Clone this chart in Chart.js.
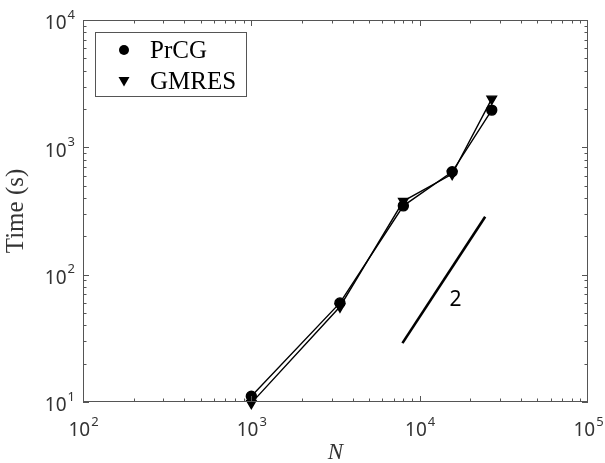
<!DOCTYPE html>
<html>
<head>
<meta charset="utf-8">
<script src="https://cdn.jsdelivr.net/npm/chart.js@4/dist/chart.umd.min.js"></script>
<style>
  body { margin: 0; background: #fff; }
  canvas { display: block; }
</style>
</head>
<body>
<canvas id="timing" width="605" height="463"></canvas>
<script>
// values
var problemSize = [1000, 3360, 8000, 15600, 26800];
var prcgTime = [11.1, 60, 347, 643, 1960];
var gmresTime = [9.8, 56, 378, 617, 2400];
var slopeN = [7900, 24500];
var slopeTime = [29, 285];
var slopeLabel = '2';
var xDecades = [2, 3, 4, 5];
var yDecades = [1, 2, 3, 4];

function toPoints(xs, ys) {
  return xs.map(function (x, i) { return { x: x, y: ys[i] }; });
}

var axisColor = '#555';
var textColor = '#333';
var serif = '"Liberation Serif", "Times New Roman", serif';
var sans = '"Noto Sans", "DejaVu Sans", sans-serif';

// box, inward ticks, power-of-ten labels, titles and legend
var decorations = {
  id: 'decorations',
  afterDraw: function (chart) {
    var ctx = chart.ctx;
    var a = chart.chartArea;
    var xs = chart.scales.x, ys = chart.scales.y;
    ctx.save();
    ctx.strokeStyle = axisColor;
    ctx.lineWidth = 1;
    ctx.strokeRect(a.left + 0.5, a.top + 0.5, a.right - a.left - 1, a.bottom - a.top - 1);

    ctx.beginPath();
    for (var d = xDecades[0]; d < xDecades[xDecades.length - 1]; d++) {
      for (var m = 1; m < 10; m++) {
        var len = m === 1 ? 6 : 3.5;
        var px = Math.round(xs.getPixelForValue(m * Math.pow(10, d))) + 0.5;
        ctx.moveTo(px, a.bottom); ctx.lineTo(px, a.bottom - len);
        ctx.moveTo(px, a.top); ctx.lineTo(px, a.top + len);
      }
    }
    for (var d2 = yDecades[0]; d2 < yDecades[yDecades.length - 1]; d2++) {
      for (var m2 = 1; m2 < 10; m2++) {
        var len2 = m2 === 1 ? 6 : 3.5;
        var py = Math.round(ys.getPixelForValue(m2 * Math.pow(10, d2))) + 0.5;
        ctx.moveTo(a.left, py); ctx.lineTo(a.left + len2, py);
        ctx.moveTo(a.right, py); ctx.lineTo(a.right - len2, py);
      }
    }
    ctx.stroke();

    // tick labels 10^n
    ctx.fillStyle = textColor;
    ctx.textBaseline = 'middle';
    ctx.textAlign = 'left';
    function power(exp, x, y, anchor) {
      ctx.font = '19px ' + sans;
      var w1 = ctx.measureText('10').width;
      ctx.font = '13px ' + sans;
      var w2 = ctx.measureText(String(exp)).width;
      var start = anchor === 'center' ? x - (w1 + w2) / 2 : x - (w1 + w2);
      ctx.font = '19px ' + sans;
      ctx.fillText('10', start, y);
      ctx.font = '13px ' + sans;
      ctx.fillText(String(exp), start + w1 + 1, y - 9);
    }
    xDecades.forEach(function (d) {
      power(d, xs.getPixelForValue(Math.pow(10, d)), 431, 'center');
    });
    yDecades.forEach(function (d) {
      power(d, 74, ys.getPixelForValue(Math.pow(10, d)) + 4, 'right');
    });

    // axis titles
    ctx.textAlign = 'center';
    ctx.font = '25px ' + serif;
    ctx.save();
    ctx.translate(16, (a.top + a.bottom) / 2);
    ctx.rotate(-Math.PI / 2);
    ctx.fillText('Time (s)', 0, 0);
    ctx.restore();
    ctx.font = 'italic 23px ' + serif;
    ctx.fillText('N', (a.left + a.right) / 2, 453);

    // slope annotation
    ctx.fillStyle = '#000';
    ctx.font = '21px ' + sans;
    ctx.fillText(slopeLabel, xs.getPixelForValue(16300), ys.getPixelForValue(63));

    // legend
    ctx.strokeStyle = axisColor;
    ctx.strokeRect(95.5, 32.5, 151, 64);
    ctx.fillStyle = '#000';
    ctx.beginPath();
    ctx.arc(124, 50, 5, 0, Math.PI * 2);
    ctx.fill();
    ctx.beginPath();
    ctx.moveTo(118.5, 77); ctx.lineTo(129.5, 77); ctx.lineTo(124, 86.5);
    ctx.closePath();
    ctx.fill();
    ctx.textAlign = 'left';
    ctx.font = '25px ' + serif;
    ctx.fillText('PrCG', 150, 51);
    ctx.fillText('GMRES', 150, 82);
    ctx.restore();
  }
};

new Chart(document.getElementById('timing'), {
  type: 'line',
  data: {
    datasets: [
      {
        label: 'PrCG',
        data: toPoints(problemSize, prcgTime),
        borderColor: '#000',
        backgroundColor: '#000',
        borderWidth: 1.4,
        pointStyle: 'circle',
        pointRadius: 5,
        tension: 0,
        clip: false
      },
      {
        label: 'GMRES',
        data: toPoints(problemSize, gmresTime),
        borderColor: '#000',
        backgroundColor: '#000',
        borderWidth: 1.4,
        pointStyle: 'triangle',
        rotation: 180,
        pointRadius: 5.5,
        tension: 0,
        clip: false
      },
      {
        label: 'slope',
        data: toPoints(slopeN, slopeTime),
        borderColor: '#000',
        borderWidth: 2.6,
        pointRadius: 0,
        tension: 0
      }
    ]
  },
  options: {
    responsive: false,
    animation: false,
    layout: { padding: { top: 20, right: 17, left: 0, bottom: 0 } },
    plugins: { legend: { display: false }, tooltip: { enabled: false } },
    scales: {
      x: {
        type: 'logarithmic',
        min: 100,
        max: 100000,
        ticks: { display: false },
        grid: { display: false },
        border: { display: false },
        afterFit: function (s) { s.height = 61; }
      },
      y: {
        type: 'logarithmic',
        min: 10,
        max: 10000,
        ticks: { display: false },
        grid: { display: false },
        border: { display: false },
        afterFit: function (s) { s.width = 83; }
      }
    }
  },
  plugins: [decorations]
});
</script>
</body>
</html>
